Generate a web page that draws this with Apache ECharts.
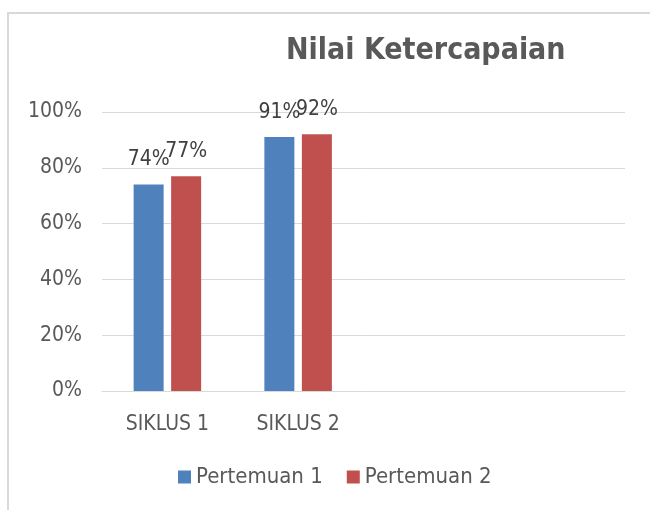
<!DOCTYPE html>
<html>
<head>
<meta charset="utf-8">
<script src="https://cdn.jsdelivr.net/npm/echarts@6/dist/echarts.min.js"></script>
<style>
html,body{margin:0;padding:0;background:#fff;overflow:hidden;width:650px;height:510px;}
#frame{position:absolute;left:7px;top:12px;width:700px;height:560px;border-left:2px solid #d9d9d9;border-top:2px solid #d9d9d9;}
#c{position:absolute;left:0;top:0;width:650px;height:510px;}
</style>
</head>
<body>
<div id="frame"></div>
<div id="c"></div>
<script>
const categories = ['SIKLUS 1', 'SIKLUS 2', '', ''];
const seriesNames = ['Pertemuan 1', 'Pertemuan 2'];
const pertemuan1 = [0.74, 0.91, null, null];
const pertemuan2 = [0.77, 0.92, null, null];
const yTicks = [0, 0.2, 0.4, 0.6, 0.8, 1.0];

const FONT = '"Liberation Sans Narrow", "DejaVu Sans Condensed", "Open Sans", sans-serif';
const chart = echarts.init(document.getElementById('c'), null, {renderer: 'canvas'});
const labelCfg = {
  show: true, position: 'top', distance: 14,
  color: '#404040', fontSize: 21, fontFamily: FONT,
  formatter: p => Math.round(p.value * 100) + '%'
};
chart.setOption({
  backgroundColor: 'transparent',
  animation: false,
  color: ['#4F81BD', '#C0504D'],
  title: {
    text: 'Nilai Ketercapaian',
    left: 281, top: 31,
    textStyle: {fontSize: 30, fontWeight: 'bold', color: '#595959', fontFamily: FONT}
  },
  legend: {
    data: seriesNames,
    top: 461, left: 173,
    itemWidth: 13, itemHeight: 13, itemGap: 24,
    icon: 'rect',
    textStyle: {fontSize: 22, color: '#595959', fontFamily: FONT}
  },
  grid: {left: 102, right: 25, top: 112, bottom: 119, containLabel: false},
  xAxis: {
    type: 'category', data: categories,
    axisLine: {show: true, lineStyle: {color: '#d9d9d9', width: 1}},
    axisTick: {show: false},
    axisLabel: {color: '#595959', fontSize: 21, fontFamily: FONT, margin: 23}
  },
  yAxis: {
    type: 'value', min: yTicks[0], max: yTicks[yTicks.length - 1], interval: 0.2,
    axisLine: {show: false}, axisTick: {show: false},
    splitLine: {lineStyle: {color: '#d9d9d9', width: 1}},
    axisLabel: {color: '#595959', fontSize: 21, fontFamily: FONT, margin: 20,
      formatter: v => Math.round(v * 100) + '%'}
  },
  series: [
    {name: seriesNames[0], type: 'bar', data: pertemuan1, barWidth: 30, barGap: '25%', label: labelCfg},
    {name: seriesNames[1], type: 'bar', data: pertemuan2, barWidth: 30, barGap: '25%', label: labelCfg}
  ]
});
</script>
</body>
</html>
